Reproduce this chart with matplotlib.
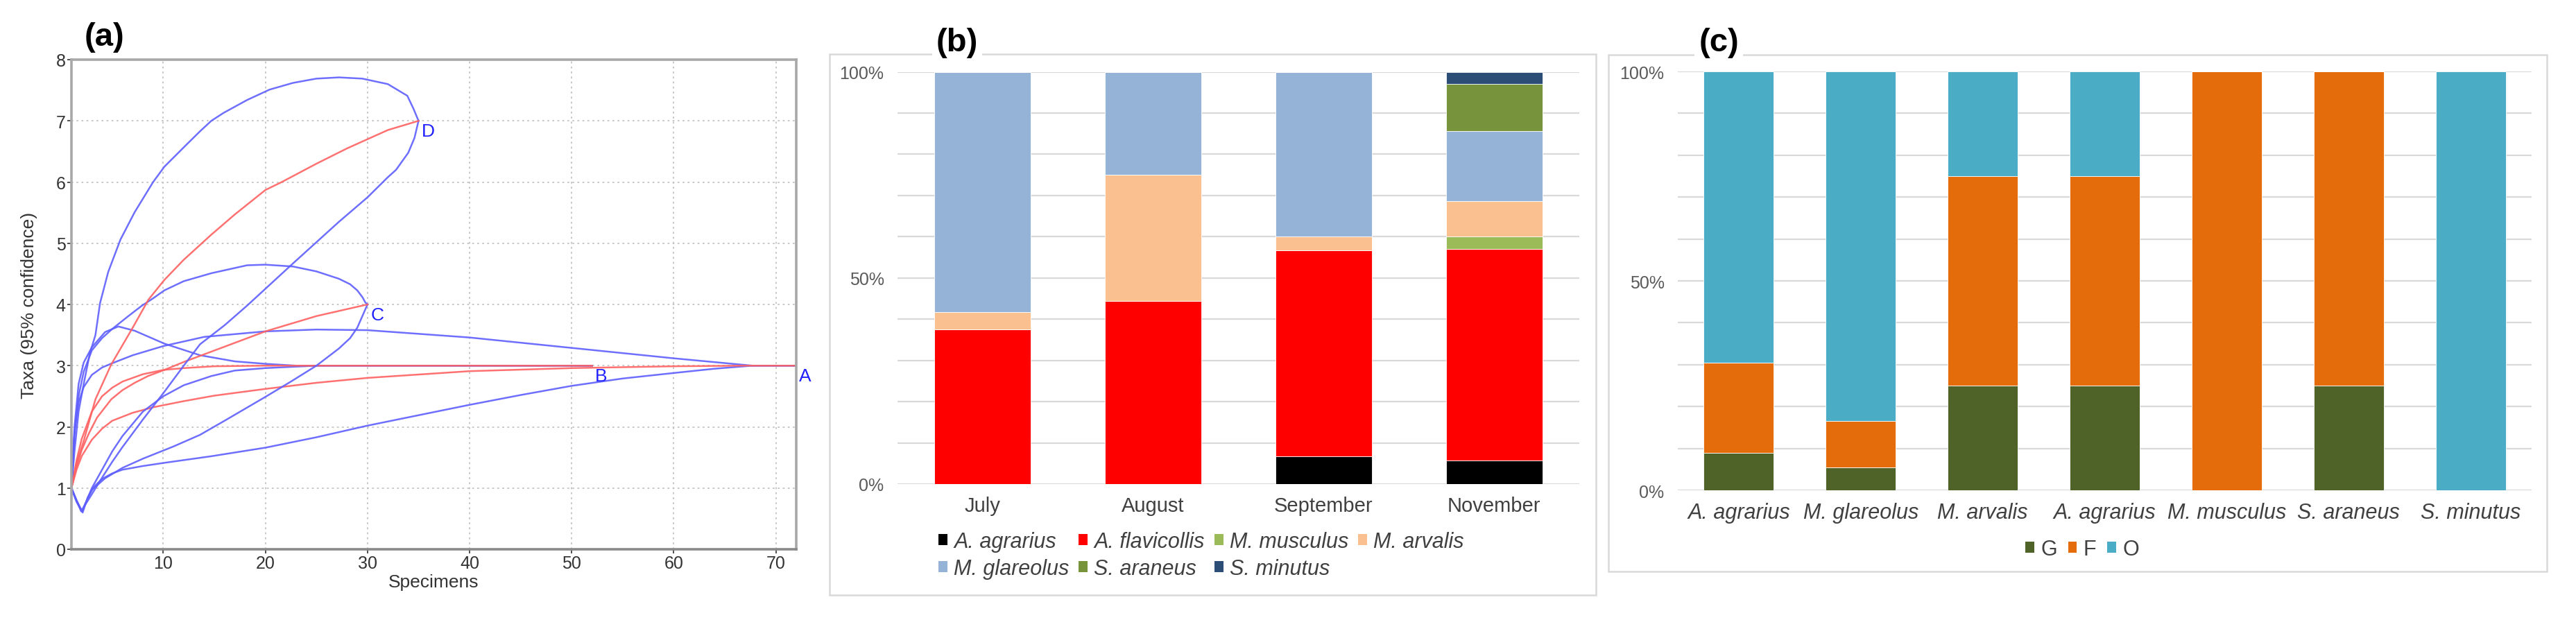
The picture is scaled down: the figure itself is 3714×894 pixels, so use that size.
"""
Three-panel figure: rarefaction curves (a), monthly species composition (b),
habitat use per species (c).
"""

import matplotlib
matplotlib.use("Agg")
import matplotlib.pyplot as plt
from matplotlib.patches import Rectangle, Patch

plt.rcParams['font.family'] = ['Liberation Sans', 'DejaVu Sans']

# ---------------- panel (a): rarefaction curves ----------------
A_mean_x = [1, 1.5, 2, 3, 4, 5, 7, 9, 12, 15, 20, 25, 30, 40, 50, 60, 67, 72]
A_mean_y = [1, 1.30, 1.52, 1.79, 1.97, 2.10, 2.23, 2.32, 2.42, 2.51, 2.62, 2.72, 2.80, 2.91, 2.96, 2.99, 3.0, 3.0]
A_up_x = [1, 1.3, 1.7, 2.2, 3, 4, 5, 7, 10, 14, 20, 25, 30, 40, 50, 60, 67.7, 72]
A_up_y = [1, 1.9, 2.4, 2.65, 2.85, 2.97, 3.04, 3.17, 3.32, 3.47, 3.56, 3.59, 3.58, 3.46, 3.29, 3.12, 3.0, 3.0]
A_lo_x = [1, 1.5, 2.1, 2.6, 3.2, 4, 5, 6, 8, 10, 14.7, 20, 25, 30, 35, 40, 45, 50, 55, 60, 64, 67.7, 72]
A_lo_y = [1, 0.78, 0.6, 0.85, 1.02, 1.15, 1.24, 1.3, 1.36, 1.41, 1.52, 1.66, 1.83, 2.02, 2.19, 2.36, 2.52, 2.67, 2.79, 2.88, 2.95, 3.0, 3.0]

B_mean_x = [1, 1.5, 2, 3, 4, 5, 6, 8, 10, 12, 15, 20, 52]
B_mean_y = [1, 1.45, 1.8, 2.25, 2.5, 2.64, 2.74, 2.86, 2.93, 2.96, 2.99, 3.0, 3.0]
B_up_x = [1, 1.3, 1.7, 2.2, 3, 4.3, 5.6, 7.2, 10.1, 13.6, 17, 20, 23, 52]
B_up_y = [1, 2.0, 2.7, 3.05, 3.3, 3.55, 3.64, 3.57, 3.36, 3.17, 3.07, 3.03, 3.0, 3.0]
B_lo_x = [1, 1.5, 2.05, 3, 4, 5, 6, 8, 10, 12, 14.7, 17, 20, 25, 52]
B_lo_y = [1, 0.8, 0.62, 1.0, 1.3, 1.6, 1.85, 2.25, 2.5, 2.68, 2.83, 2.92, 2.96, 3.0, 3.0]

C_mean_x = [1, 1.5, 2, 2.7, 3.5, 4.9, 6, 7.2, 8.5, 10.1, 12, 13.6, 16, 20, 25, 30]
C_mean_y = [1, 1.35, 1.62, 1.89, 2.15, 2.45, 2.6, 2.72, 2.83, 2.93, 3.06, 3.16, 3.31, 3.56, 3.81, 4.0]
C_up_x = [1, 1.3, 1.7, 2.2, 3, 4, 5, 6.5, 7.9, 9, 10.1, 12, 14.7, 18.2, 20, 22.7, 25, 27.2, 28.3, 29, 29.5, 29.8, 30]
C_up_y = [1, 1.9, 2.5, 2.9, 3.25, 3.45, 3.6, 3.8, 3.98, 4.1, 4.23, 4.38, 4.51, 4.64, 4.65, 4.62, 4.54, 4.42, 4.33, 4.23, 4.12, 4.03, 4.0]
C_lo_x = [1, 1.5, 2.0, 3, 4.3, 6, 8, 11, 13.6, 16, 20, 22.5, 25, 27.2, 28.3, 29, 29.5, 30]
C_lo_y = [1, 0.78, 0.62, 0.97, 1.16, 1.33, 1.48, 1.68, 1.87, 2.1, 2.49, 2.74, 3.0, 3.28, 3.45, 3.62, 3.81, 4.0]

D_mean_x = [1, 1.5, 2.2, 3.35, 4.9, 7, 8.55, 10.1, 12, 14.7, 17, 20, 21.6, 25, 28, 30, 32, 35]
D_mean_y = [1, 1.4, 1.77, 2.45, 3.02, 3.62, 4.08, 4.40, 4.73, 5.14, 5.47, 5.87, 6.0, 6.3, 6.55, 6.70, 6.85, 7.0]
D_up_x = [1, 1.3, 1.7, 2.2, 2.8, 3.35, 3.8, 4.6, 5.8, 7.2, 9.0, 10.1, 12.2, 13.6, 14.7, 15.9, 18.2, 20.4, 22.7, 25, 27.2, 29.5, 32, 33.9, 34.5, 35]
D_up_y = [1, 1.6, 2.25, 2.7, 3.2, 3.5, 4.02, 4.53, 5.06, 5.51, 6.0, 6.25, 6.6, 6.83, 7.0, 7.13, 7.34, 7.51, 7.62, 7.69, 7.71, 7.69, 7.6, 7.41, 7.2, 7.0]
D_lo_x = [1, 1.5, 1.95, 3, 4, 5, 6, 8, 10, 12, 13.6, 16, 18.2, 22.7, 27.2, 30, 32, 32.8, 34, 34.6, 35]
D_lo_y = [1, 0.8, 0.62, 0.9, 1.17, 1.43, 1.67, 2.12, 2.55, 3.0, 3.35, 3.66, 3.98, 4.67, 5.35, 5.75, 6.08, 6.2, 6.48, 6.72, 7.0]

sample_names = ['A', 'B', 'C', 'D']
sample_n = [72, 52, 30, 35]
sample_taxa = [3, 3, 4, 7]

# ---------------- panel (b): species share per month (%) ----------------
months = ['July', 'August', 'September', 'November']
species_b = ['A. agrarius', 'A. flavicollis', 'M. musculus', 'M. arvalis',
             'M. glareolus', 'S. araneus', 'S. minutus']
a_agrarius = [0, 0, 6.7, 5.7]
a_flavicollis = [37.5, 44.4, 50.0, 51.4]
m_musculus = [0, 0, 0, 2.9]
m_arvalis = [4.2, 30.6, 3.3, 8.6]
m_glareolus = [58.3, 25.0, 40.0, 17.1]
s_araneus = [0, 0, 0, 11.4]
s_minutus = [0, 0, 0, 2.9]
colors_b = ['#000000', '#ff0000', '#9bbb59', '#fac090', '#95b3d7', '#77933c', '#2c4d75']

# ---------------- panel (c): habitat share per species (%) ----------------
species_c = ['A. agrarius', 'M. glareolus', 'M. arvalis', 'A. agrarius',
             'M. musculus', 'S. araneus', 'S. minutus']
habitats = ['G', 'F', 'O']
hab_G = [9.0, 5.5, 25, 25, 0, 25, 0]
hab_F = [21.4, 11.0, 50, 50, 100, 75, 0]
hab_O = [69.6, 83.5, 25, 25, 0, 0, 100]
colors_c = ['#4f6228', '#e46c0a', '#4bacc6']

W, H = 3714, 895
fig = plt.figure(figsize=(W / 100, H / 100), dpi=100)


def fx(px):
    return px / W


def fy(py):
    return 1 - py / H


# ======================= (a) =======================
ax = fig.add_axes([fx(103), fy(793), fx(1148 - 103), (793 - 87) / H])
blue = '#5f5fff'
red = '#ff6262'
curves = [
    (A_lo_x, A_lo_y, blue), (A_up_x, A_up_y, blue), (A_mean_x, A_mean_y, red),
    (B_lo_x, B_lo_y, blue), (B_up_x, B_up_y, blue), (B_mean_x, B_mean_y, red),
    (C_lo_x, C_lo_y, blue), (C_up_x, C_up_y, blue), (C_mean_x, C_mean_y, red),
    (D_lo_x, D_lo_y, blue), (D_up_x, D_up_y, blue), (D_mean_x, D_mean_y, red),
]
for xs, ys, c in curves:
    ax.plot(xs, ys, color=c, lw=1.8, alpha=0.9, solid_joinstyle='round')

for name, n, s in zip(sample_names, sample_n, sample_taxa):
    ax.text(n + 0.3, s - 0.03, name, color='#2020ff', fontsize=19,
            ha='left', va='top', clip_on=False)

ax.set_xlim(1, 72)
ax.set_ylim(0, 8)
ax.set_xticks(range(10, 80, 10))
ax.set_yticks(range(0, 9))
ax.grid(True, color='#c4c4c4', linestyle=(0, (1.5, 2.5)), lw=1.3)
for side in ['left', 'top', 'right']:
    ax.spines[side].set_color('#a8a8a8')
    ax.spines[side].set_linewidth(2.6)
ax.spines['bottom'].set_color('#8a8a8a')
ax.spines['bottom'].set_linewidth(2.6)
ax.tick_params(direction='out', length=4, width=1.2, color='#333333',
               labelsize=18, labelcolor='#333333', pad=2)
ax.set_xlabel('Specimens', fontsize=19, color='#333333', labelpad=2)
ax.set_ylabel('Taxa (95% confidence)', fontsize=19, color='#333333', labelpad=19)
fig.text(fx(151), fy(54), '(a)', fontsize=34, fontweight='bold',
         ha='center', va='center')

# ======================= chart boxes for (b) and (c) =======================
for x0, y0, x1, y1 in [(1196, 79, 2301, 859), (2319, 80, 3672, 825)]:
    fig.patches.append(Rectangle((fx(x0), fy(y1)), fx(x1 - x0), (y1 - y0) / H,
                                 transform=fig.transFigure, fill=False,
                                 edgecolor='#d9d9d9', lw=1.8, zorder=0))


def style_stacked(axis):
    axis.set_ylim(0, 100)
    axis.set_yticks([0, 50, 100])
    axis.set_yticklabels(['0%', '50%', '100%'])
    axis.set_yticks(range(0, 101, 10), minor=True)
    axis.grid(True, axis='y', which='both', color='#d9d9d9', lw=1.6)
    axis.set_axisbelow(True)
    for sp in axis.spines.values():
        sp.set_visible(False)
    axis.tick_params(axis='y', which='both', length=0, labelsize=18,
                     labelcolor='#595959', pad=14)
    axis.tick_params(axis='x', length=0, pad=12)


# ======================= (b) =======================
axb = fig.add_axes([fx(1294), fy(699), fx(2277 - 1294), (699 - 104.5) / H])
series_b = [a_agrarius, a_flavicollis, m_musculus, m_arvalis,
            m_glareolus, s_araneus, s_minutus]
bottom = [0.0] * len(months)
for vals, col, lab in zip(series_b, colors_b, species_b):
    axb.bar(range(len(months)), vals, 0.566, bottom=bottom, color=col,
            edgecolor='white', lw=0.6, label=lab)
    bottom = [b + v for b, v in zip(bottom, vals)]
axb.set_xlim(-0.5, len(months) - 0.5)
axb.set_xticks(range(len(months)))
axb.set_xticklabels(months, fontsize=21, color='#404040')
style_stacked(axb)

# legend fills column by column, so reorder to get the row-wise layout
hb = [Patch(facecolor=c, edgecolor='none') for c in colors_b]
order = [0, 4, 1, 5, 2, 6, 3]
fig.legend([hb[i] for i in order], [species_b[i] for i in order],
           loc='upper left', bbox_to_anchor=(fx(1353), fy(767)), ncol=4,
           frameon=False, prop={'size': 22, 'style': 'italic'},
           labelcolor='#404040', handlelength=0.42, handleheight=0.42,
           handletextpad=0.3, columnspacing=0.46, labelspacing=0.28,
           borderpad=0, borderaxespad=0)
fig.text(fx(1380), fy(62), '(b)', fontsize=34, fontweight='bold',
         ha='center', va='center',
         bbox=dict(facecolor='white', edgecolor='none', pad=4))

# ======================= (c) =======================
axc = fig.add_axes([fx(2419), fy(708), fx(3650 - 2419), (708 - 104) / H])
series_c = [hab_G, hab_F, hab_O]
bottom = [0.0] * len(species_c)
for vals, col, lab in zip(series_c, colors_c, habitats):
    axc.bar(range(len(species_c)), vals, 0.575, bottom=bottom, color=col,
            edgecolor='white', lw=0.6, label=lab)
    bottom = [b + v for b, v in zip(bottom, vals)]
axc.set_xlim(-0.5, len(species_c) - 0.5)
axc.set_xticks(range(len(species_c)))
axc.set_xticklabels(species_c, fontsize=22, style='italic', color='#404040')
style_stacked(axc)

hc = [Patch(facecolor=c, edgecolor='none') for c in colors_c]
fig.legend(hc, habitats, loc='center', bbox_to_anchor=(fx(3002), fy(793)),
           ncol=3, frameon=False, prop={'size': 22}, labelcolor='#404040',
           handlelength=0.42, handleheight=0.42, handletextpad=0.3,
           columnspacing=0.52, borderpad=0, borderaxespad=0)
fig.text(fx(2478), fy(62), '(c)', fontsize=34, fontweight='bold',
         ha='center', va='center',
         bbox=dict(facecolor='white', edgecolor='none', pad=4))

fig.savefig('out.png', dpi=100, facecolor='white')
print("saved out.png")
